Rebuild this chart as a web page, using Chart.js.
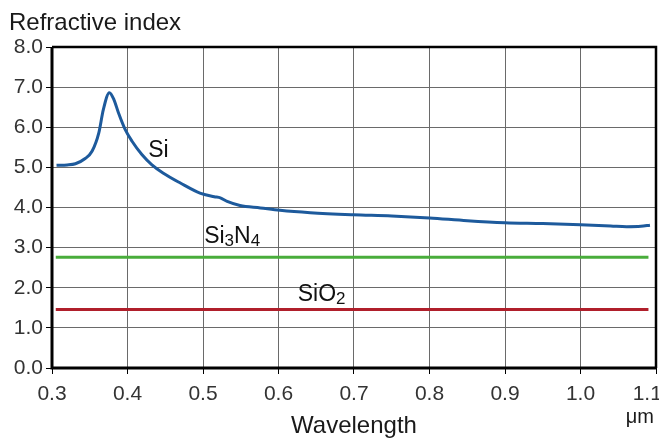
<!DOCTYPE html>
<html>
<head>
<meta charset="utf-8">
<script src="https://cdn.jsdelivr.net/npm/chart.js@4/dist/chart.umd.min.js"></script>
<style>
  body { margin: 0; background: #fff; }
  .wrap { width: 659px; height: 439px; }
</style>
</head>
<body>
<div class="wrap"><canvas id="chart"></canvas></div>
<script>
// Data
const siWavelength = [0.306, 0.32, 0.331, 0.344, 0.353, 0.362, 0.368, 0.376, 0.382, 0.388,
    0.397, 0.406, 0.419, 0.432, 0.447, 0.47, 0.496, 0.515, 0.523, 0.532, 0.549, 0.576,
    0.602, 0.642, 0.699, 0.75, 0.8, 0.85, 0.9, 0.95, 1.0, 1.04, 1.061, 1.08, 1.092];
const siIndex = [5.05, 5.06, 5.09, 5.22, 5.40, 5.86, 6.44, 6.86, 6.69, 6.36,
    5.94, 5.65, 5.32, 5.07, 4.86, 4.61, 4.36, 4.27, 4.24, 4.15, 4.05, 3.99,
    3.93, 3.87, 3.82, 3.79, 3.74, 3.67, 3.62, 3.60, 3.57, 3.54, 3.52, 3.53, 3.56];
const flatWavelength = [0.305, 1.09];
const si3n4Index = [2.76, 2.76];
const sio2Index = [1.455, 1.455];

const xTicks = [0.3, 0.4, 0.5, 0.6, 0.7, 0.8, 0.9, 1.0, 1.1];
const yTicks = [0, 1, 2, 3, 4, 5, 6, 7, 8];

const FONT = "'Liberation Sans', Arial, sans-serif";

const toPoints = (xs, ys) => xs.map((x, i) => ({ x: x, y: ys[i] }));

// Frame, labels and titles drawn on top of the chart
const decorations = {
    id: "decorations",
    afterDatasetsDraw(c) {
        const { ctx, chartArea: a, scales } = c;
        ctx.save();

        // black frame around the plot
        ctx.strokeStyle = "#000";
        ctx.lineWidth = 2.5;
        ctx.beginPath();
        ctx.moveTo(a.left, a.top);
        ctx.lineTo(a.right, a.top);
        ctx.lineTo(a.right, a.bottom);
        ctx.stroke();
        ctx.lineWidth = 3;
        ctx.beginPath();
        ctx.moveTo(a.left, a.top);
        ctx.lineTo(a.left, a.bottom);
        ctx.lineTo(a.right, a.bottom);
        ctx.stroke();

        // series labels, with subscripts
        const label = (parts, xv, yv) => {
            let x = scales.x.getPixelForValue(xv);
            const y = scales.y.getPixelForValue(yv);
            ctx.fillStyle = "#111";
            ctx.textBaseline = "alphabetic";
            ctx.textAlign = "left";
            parts.forEach(([text, sub]) => {
                ctx.font = (sub ? "17px " : "23px ") + FONT;
                ctx.fillText(text, x, sub ? y + 3 : y);
                x += ctx.measureText(text).width;
            });
        };
        label([["Si", false]], 0.4275, 5.27);
        label([["Si", false], ["3", true], ["N", false], ["4", true]], 0.5015, 3.12);
        label([["SiO", false], ["2", true]], 0.6255, 1.66);

        // titles
        ctx.fillStyle = "#1a1a1a";
        ctx.textBaseline = "alphabetic";
        ctx.font = "24px " + FONT;
        ctx.textAlign = "left";
        ctx.fillText("Refractive index", 9, 30);
        ctx.textAlign = "center";
        ctx.fillText("Wavelength", 354, 433);
        ctx.textAlign = "right";
        ctx.font = "20px " + FONT;
        ctx.fillText("\u03bcm", 654, 423);

        ctx.restore();
    },
};

const chart = new Chart(document.getElementById("chart"), {
    type: "line",
    data: {
        datasets: [
            {
                label: "Si",
                data: toPoints(siWavelength, siIndex),
                borderColor: "#1d5a9c",
                borderWidth: 3,
                cubicInterpolationMode: "monotone",
                pointRadius: 0,
                fill: false,
            },
            {
                label: "Si3N4",
                data: toPoints(flatWavelength, si3n4Index),
                borderColor: "#49ad3b",
                borderWidth: 3,
                pointRadius: 0,
                fill: false,
            },
            {
                label: "SiO2",
                data: toPoints(flatWavelength, sio2Index),
                borderColor: "#b01f2b",
                borderWidth: 3,
                pointRadius: 0,
                fill: false,
            },
        ],
    },
    options: {
        responsive: true,
        maintainAspectRatio: false,
        animation: false,
        layout: { padding: { top: 47, right: 3, left: 0, bottom: 0 } },
        plugins: {
            legend: { display: false },
            tooltip: { enabled: false },
        },
        scales: {
            x: {
                type: "linear",
                min: 0.3,
                max: 1.1,
                afterBuildTicks: (s) => { s.ticks = xTicks.map((v) => ({ value: v })); },
                afterFit: (s) => {
                    s.height = 71;
                    s.paddingLeft = 0;
                    s.paddingRight = 0;
                },
                border: { display: false },
                grid: { color: "#6a6a6a", lineWidth: 1, tickLength: 6, tickColor: "#000" },
                ticks: {
                    color: "#333",
                    padding: 8,
                    maxRotation: 0,
                    font: { family: FONT, size: 21 },
                    // last label sits against the edge, so pad it to pull it left
                    callback: (v, i, all) =>
                        Number(v).toFixed(1) + (i === all.length - 1 ? "\u00a0\u00a0\u00a0" : ""),
                },
            },
            y: {
                min: 0,
                max: 8,
                afterBuildTicks: (s) => { s.ticks = yTicks.map((v) => ({ value: v })); },
                afterFit: (s) => {
                    s.width = 52;
                    s.paddingTop = 0;
                    s.paddingBottom = 0;
                },
                border: { display: false },
                grid: { color: "#6a6a6a", lineWidth: 1, tickLength: 6, tickColor: "#000" },
                ticks: {
                    color: "#333",
                    padding: 3,
                    font: { family: FONT, size: 21 },
                    callback: (v) => Number(v).toFixed(1),
                },
            },
        },
    },
    plugins: [decorations],
});
</script>
</body>
</html>
